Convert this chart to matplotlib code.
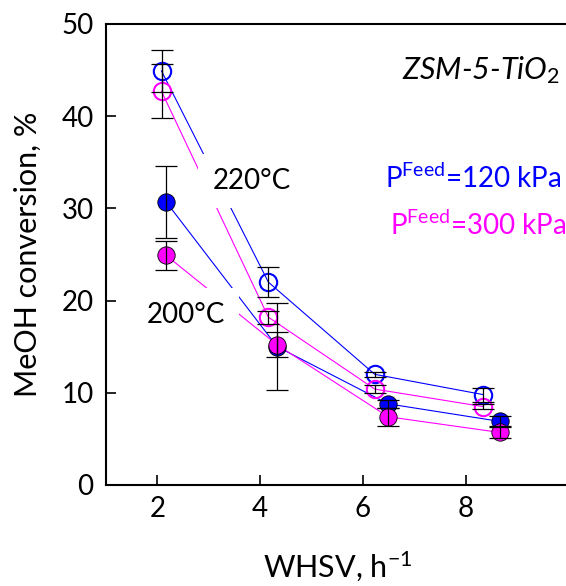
"""MeOH conversion vs WHSV over ZSM-5-TiO2 at two temperatures and feed pressures."""
import matplotlib

matplotlib.use("Agg")
import matplotlib.pyplot as plt

plt.rcParams["font.family"] = ["Lato", "DejaVu Sans"]
plt.rcParams["mathtext.fontset"] = "custom"
plt.rcParams["mathtext.rm"] = "Lato"
plt.rcParams["mathtext.it"] = "Lato:italic"

BLUE = "#0000FF"
MAGENTA = "#FF00FF"

# 220 °C (open circles) and 200 °C (filled circles)
whsv_220 = [2.08, 4.16, 6.23, 8.34]
whsv_200 = [2.17, 4.33, 6.49, 8.66]

conv_220_120 = [44.9, 22.0, 12.0, 9.8]
err_220_120 = [2.3, 1.65, 0.3, 0.75]
conv_220_300 = [42.7, 18.2, 10.4, 8.5]
err_220_300 = [2.95, 0.7, 0.45, 0.3]

conv_200_120 = [30.7, 15.0, 8.8, 6.9]
err_200_120 = [3.9, 4.7, 0.4, 0.6]
conv_200_300 = [24.9, 15.2, 7.4, 5.7]
err_200_300 = [1.6, 1.35, 1.0, 0.65]

fig = plt.figure(figsize=(5.66, 5.86), dpi=100)
ax = fig.add_axes([0.1873, 0.1724, 0.817, 0.7867])

series = [
    (whsv_220, conv_220_120, err_220_120, BLUE, False),
    (whsv_220, conv_220_300, err_220_300, MAGENTA, False),
    (whsv_200, conv_200_120, err_200_120, BLUE, True),
    (whsv_200, conv_200_300, err_200_300, MAGENTA, True),
]

for x, y, e, c, filled in series:
    ax.plot(x, y, color=c, lw=0.8, zorder=1)
    if filled:
        ax.plot(x, y, "o", ms=12.5, mfc=c, mec="black", mew=0.6,
                ls="none", zorder=3)
    else:
        ax.plot(x, y, "o", ms=12.5, mfc="none", mec=c, mew=1.5,
                ls="none", zorder=3)
    ax.errorbar(x, y, yerr=e, fmt="none", ecolor="black", elinewidth=0.9,
                capsize=8, capthick=0.9, zorder=4)

box = dict(boxstyle="square,pad=0.5", facecolor="white", edgecolor="none")
ax.text(3.83, 33.0, "220°C", fontsize=20, ha="center", va="center",
        bbox=box, zorder=2)
ax.text(2.55, 18.4, "200°C", fontsize=20, ha="center", va="center",
        bbox=box, zorder=2)

ax.text(8.3, 45.0, r"ZSM-5-TiO$_{\mathit{2}}$", fontsize=22, style="italic",
        ha="center", va="center")
ax.text(8.15, 33.3, r"P$^{\mathrm{Feed}}$=120 kPa", fontsize=20, color=BLUE,
        ha="center", va="center")
ax.text(8.25, 28.2, r"P$^{\mathrm{Feed}}$=300 kPa", fontsize=20,
        color=MAGENTA, ha="center", va="center")

ax.set_xlim(1, 10)
ax.set_ylim(0, 50)
ax.set_xticks([2, 4, 6, 8])
ax.set_yticks([0, 10, 20, 30, 40, 50])
ax.tick_params(direction="in", length=7, width=1.2, labelsize=20)
ax.tick_params(axis="x", pad=8)
ax.tick_params(axis="y", pad=9)
ax.spines["right"].set_visible(False)
for s in ("left", "bottom", "top"):
    ax.spines[s].set_linewidth(1.5)

ax.set_xlabel(r"WHSV, h$^{\mathrm{-1}}$", fontsize=22, labelpad=20)
ax.set_ylabel("MeOH conversion, %", fontsize=22, labelpad=14)

fig.savefig("out.png", dpi=100, facecolor="white")
plt.close(fig)
